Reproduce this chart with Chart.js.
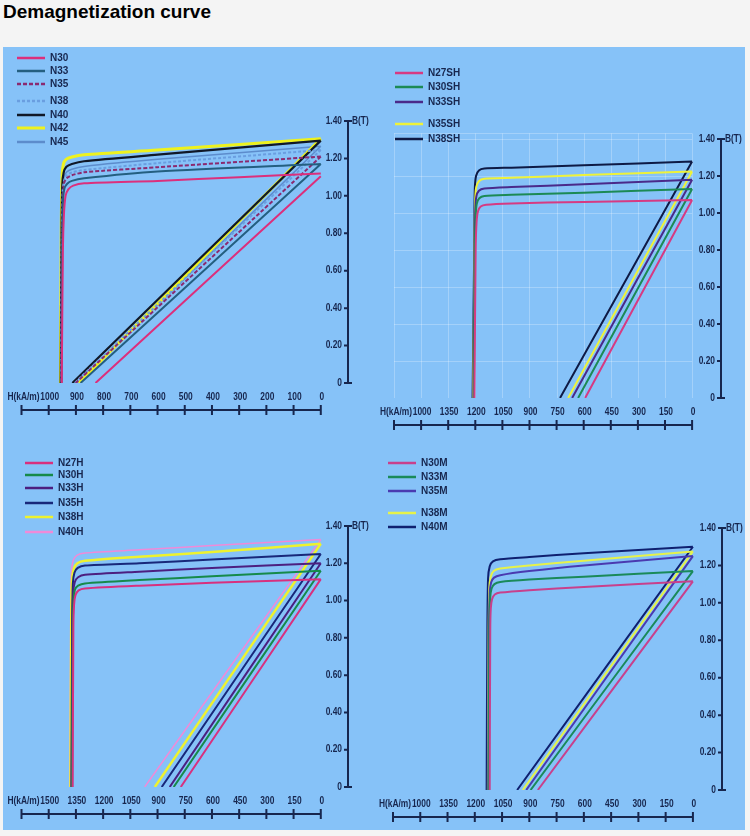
<!DOCTYPE html>
<html>
<head>
<meta charset="utf-8">
<title>Demagnetization curve</title>
<script src="https://cdn.jsdelivr.net/npm/chart.js@4.4.1/dist/chart.umd.min.js"></script>
<style>
    html, body { margin: 0; padding: 0; background: #f4f4f4; }
    body { width: 750px; height: 836px; position: relative; overflow: hidden; font-family: Arial, "Liberation Sans", sans-serif; }
    h1 { position: absolute; left: 3px; top: 1px; margin: 0; font-size: 19px; line-height: 22px; font-weight: bold; color: #000; }
    .board { position: absolute; left: 3px; top: 47px; width: 742px; height: 783px; background: #86c2f8; }
    canvas { position: absolute; }
</style>
</head>
<body>
<h1>Demagnetization curve</h1>
<div class="board"></div>
<canvas id="chartN" style="left:3px;top:47px" width="372" height="390"></canvas>
<canvas id="chartSH" style="left:375px;top:47px" width="370" height="390"></canvas>
<canvas id="chartH" style="left:3px;top:437px" width="372" height="393"></canvas>
<canvas id="chartM" style="left:375px;top:437px" width="370" height="393"></canvas>
<script>
// B axis (tesla), shared by all four panels
const bTicks = [0, 0.2, 0.4, 0.6, 0.8, 1.0, 1.2, 1.4];
const bTickLabels = ['0', '0.20', '0.40', '0.60', '0.80', '1.00', '1.20', '1.40'];

// N grades, H axis 0..1100 kA/m
const nGrades = ['N30', 'N33', 'N35', 'N38', 'N40', 'N42', 'N45'];
const nHTicks = [1100, 1000, 900, 800, 700, 600, 500, 400, 300, 200, 100, 0];
const nHLabels = ['H(kA/m)', '1000', '900', '800', '700', '600', '500', '400', '300', '200', '100', '0'];
const nIntrinsic = [
    [[0, 1.12], [300, 1.10], [600, 1.08], [870, 1.067], [910, 1.055], [928, 1.035], [938, 1.0], [944, 0.9], [948, 0.7], [952, 0]],
    [[0, 1.17], [600, 1.13], [870, 1.094], [915, 1.08], [932, 1.065], [942, 1.04], [947, 0.98], [950, 0.8], [953, 0]],
    [[0, 1.21], [600, 1.153], [870, 1.126], [915, 1.11], [933, 1.095], [943, 1.07], [948, 1.0], [951, 0.8], [954, 0]],
    [[0, 1.245], [600, 1.175], [870, 1.138], [915, 1.125], [934, 1.11], [944, 1.08], [949, 1.02], [952, 0.8], [955, 0]],
    [[0, 1.295], [600, 1.22], [870, 1.185], [915, 1.17], [935, 1.155], [945, 1.125], [950, 1.06], [953, 0.8], [956, 0]],
    [[0, 1.305], [600, 1.245], [870, 1.22], [915, 1.208], [936, 1.195], [946, 1.17], [951, 1.1], [954, 0.8], [957, 0]],
    [[0, 1.265], [600, 1.195], [870, 1.157], [915, 1.142], [934, 1.127], [944, 1.1], [949, 1.04], [952, 0.8], [955, 0]]
];
const nNormal = [
    [[0, 1.105], [828, 0]],
    [[0, 1.17], [883, 0]],
    [[0, 1.21], [901, 0]],
    [[0, 1.245], [905, 0]],
    [[0, 1.295], [913, 0]],
    [[0, 1.305], [889, 0]],
    [[0, 1.265], [895, 0]]
];

// SH grades, H axis 0..1650 kA/m
const shGrades = ['N27SH', 'N30SH', 'N33SH', 'N35SH', 'N38SH'];
const shHTicks = [1650, 1500, 1350, 1200, 1050, 900, 750, 600, 450, 300, 150, 0];
const shHLabels = ['H(kA/m)', '1000', '1350', '1200', '1050', '900', '750', '600', '450', '300', '150', '0'];
const shIntrinsic = [
    [[0, 1.07], [600, 1.06], [1000, 1.052], [1140, 1.045], [1170, 1.035], [1185, 1.01], [1193, 0.95], [1198, 0.8], [1205, 0]],
    [[0, 1.13], [600, 1.11], [1000, 1.098], [1150, 1.092], [1178, 1.08], [1192, 1.05], [1198, 0.98], [1202, 0.8], [1208, 0]],
    [[0, 1.18], [600, 1.155], [1000, 1.14], [1150, 1.132], [1180, 1.12], [1194, 1.09], [1200, 1.02], [1203, 0.8], [1210, 0]],
    [[0, 1.224], [600, 1.205], [1000, 1.19], [1150, 1.185], [1180, 1.172], [1195, 1.14], [1201, 1.06], [1204, 0.8], [1212, 0]],
    [[0, 1.278], [600, 1.258], [1000, 1.245], [1150, 1.24], [1180, 1.23], [1196, 1.2], [1203, 1.12], [1206, 0.8], [1215, 0]]
];
const shNormal = [
    [[0, 1.07], [592, 0]],
    [[0, 1.13], [631, 0]],
    [[0, 1.18], [664, 0]],
    [[0, 1.224], [686, 0]],
    [[0, 1.278], [731, 0]]
];

// H grades
const hGrades = ['N27H', 'N30H', 'N33H', 'N35H', 'N38H', 'N40H'];
const hHTicks = [1650, 1500, 1350, 1200, 1050, 900, 750, 600, 450, 300, 150, 0];
const hHLabels = ['H(kA/m)', '1500', '1350', '1200', '1050', '900', '750', '600', '450', '300', '150', '0'];
const hIntrinsic = [
    [[0, 1.115], [600, 1.095], [1000, 1.08], [1300, 1.065], [1335, 1.055], [1352, 1.03], [1360, 0.98], [1364, 0.85], [1368, 0]],
    [[0, 1.16], [600, 1.13], [1000, 1.11], [1300, 1.092], [1338, 1.08], [1355, 1.06], [1363, 1.0], [1367, 0.85], [1371, 0]],
    [[0, 1.20], [600, 1.175], [1000, 1.155], [1300, 1.138], [1338, 1.125], [1356, 1.1], [1365, 1.04], [1369, 0.85], [1373, 0]],
    [[0, 1.25], [600, 1.22], [1000, 1.2], [1300, 1.188], [1340, 1.175], [1358, 1.15], [1367, 1.09], [1371, 0.85], [1375, 0]],
    [[0, 1.305], [600, 1.26], [1000, 1.235], [1300, 1.213], [1342, 1.2], [1362, 1.17], [1372, 1.1], [1376, 0.85], [1380, 0]],
    [[0, 1.327], [600, 1.295], [1000, 1.272], [1300, 1.255], [1345, 1.243], [1365, 1.215], [1375, 1.15], [1379, 0.85], [1383, 0]]
];
const hNormal = [
    [[0, 1.115], [772, 0]],
    [[0, 1.16], [811, 0]],
    [[0, 1.20], [833, 0]],
    [[0, 1.25], [877, 0]],
    [[0, 1.305], [915, 0]],
    [[0, 1.327], [971, 0]]
];

// M grades
const mGrades = ['N30M', 'N33M', 'N35M', 'N38M', 'N40M'];
const mHTicks = [1650, 1500, 1350, 1200, 1050, 900, 750, 600, 450, 300, 150, 0];
const mHLabels = ['H(kA/m)', '1000', '1350', '1200', '1050', '900', '750', '600', '450', '300', '150', '0'];
const mIntrinsic = [
    [[0, 1.115], [600, 1.085], [900, 1.068], [1060, 1.055], [1090, 1.045], [1105, 1.02], [1112, 0.97], [1115, 0.85], [1118, 0]],
    [[0, 1.17], [600, 1.14], [900, 1.125], [1060, 1.112], [1092, 1.1], [1108, 1.075], [1116, 1.02], [1120, 0.85], [1124, 0]],
    [[0, 1.25], [600, 1.2], [900, 1.17], [1060, 1.148], [1094, 1.135], [1110, 1.11], [1118, 1.05], [1122, 0.85], [1126, 0]],
    [[0, 1.275], [600, 1.225], [900, 1.2], [1060, 1.183], [1096, 1.17], [1112, 1.14], [1120, 1.08], [1124, 0.85], [1128, 0]],
    [[0, 1.30], [600, 1.265], [900, 1.245], [1060, 1.233], [1100, 1.222], [1118, 1.195], [1127, 1.13], [1131, 0.85], [1135, 0]]
];
const mNormal = [
    [[0, 1.115], [853, 0]],
    [[0, 1.17], [893, 0]],
    [[0, 1.25], [917, 0]],
    [[0, 1.275], [936, 0]],
    [[0, 1.30], [967, 0]]
];

// styles
const inkColor = '#17264e';
const tickFont = 'bold 10px Arial, "Liberation Sans", sans-serif';
const legendFont = 'bold 10px Arial, "Liberation Sans", sans-serif';
const nColors = ['#dc2f7c', '#245f80', '#8a2a70', '#6a9ee0', '#101828', '#eef21e', '#5c8ccc'];
const nWidths = [2, 2, 2, 2, 2.2, 3, 1.5];
const nDashes = [[], [], [4, 2], [3, 2], [], [], []];
const shColors = ['#d63a82', '#1c8a55', '#4a2a8a', '#eef23a', '#0e1a45'];
const hColors = ['#d8307e', '#168a4a', '#4c1f80', '#18287a', '#eef22e', '#f08ad8'];
const hWidths = [2, 2, 2, 2, 2.5, 1.5];
const mColors = ['#c8408c', '#1a8a5a', '#4a3ab0', '#e6f24a', '#0f2070'];

// the scanned labels are set in a narrow face, so squeeze them a little
function narrowText(ctx, text, x, y) {
    ctx.save();
    ctx.translate(x, y);
    ctx.scale(0.84, 1);
    ctx.fillText(text, 0, 0);
    ctx.restore();
}

const bhAxes = {
    id: 'bhAxes',
    beforeDatasetsDraw: function(chart, args, opts) {
        if (!opts.grid) return;
        const ctx = chart.ctx;
        const xs = chart.scales.x;
        const ys = chart.scales.y;
        const top = ys.getPixelForValue(1.43);
        const bottom = ys.getPixelForValue(0);
        ctx.save();
        ctx.strokeStyle = 'rgba(255, 255, 255, 0.25)';
        ctx.lineWidth = 1;
        ctx.beginPath();
        opts.hTicks.forEach(function(v) {
            const x = Math.round(xs.getPixelForValue(v)) + 0.5;
            ctx.moveTo(x, top);
            ctx.lineTo(x, bottom);
        });
        const left = xs.getPixelForValue(opts.hTicks[0]);
        const right = xs.getPixelForValue(0);
        bTicks.concat([1.43]).forEach(function(v) {
            if (v === 0) return;
            const y = Math.round(ys.getPixelForValue(v)) + 0.5;
            ctx.moveTo(left, y);
            ctx.lineTo(right, y);
        });
        ctx.stroke();
        ctx.restore();
    },
    afterDraw: function(chart, args, opts) {
        const ctx = chart.ctx;
        const xs = chart.scales.x;
        const ys = chart.scales.y;
        const axisX = xs.getPixelForValue(xs.min);
        const yTop = ys.getPixelForValue(1.4);
        const yZero = ys.getPixelForValue(0);
        ctx.save();
        ctx.strokeStyle = inkColor;
        ctx.fillStyle = inkColor;
        ctx.lineWidth = 2;

        // B axis
        ctx.beginPath();
        ctx.moveTo(axisX, yTop);
        ctx.lineTo(axisX, yZero);
        bTicks.forEach(function(v, i) {
            const y = ys.getPixelForValue(v);
            const end = (i === 0 || i === bTicks.length - 1) ? 4 : 0;
            ctx.moveTo(axisX - 4, y);
            ctx.lineTo(axisX + end, y);
        });
        ctx.stroke();
        ctx.font = tickFont;
        ctx.textBaseline = 'middle';
        ctx.textAlign = 'right';
        bTicks.forEach(function(v, i) {
            narrowText(ctx, bTickLabels[i], axisX - 6, ys.getPixelForValue(v));
        });
        ctx.textAlign = 'left';
        narrowText(ctx, 'B(T)', axisX + 4, yTop);

        // H axis
        const lineY = yZero + 27;
        const labelY = yZero + 14;
        ctx.beginPath();
        ctx.moveTo(xs.getPixelForValue(opts.hTicks[0]), lineY);
        ctx.lineTo(xs.getPixelForValue(0), lineY);
        opts.hTicks.forEach(function(v) {
            const x = xs.getPixelForValue(v);
            ctx.moveTo(x, lineY - 5);
            ctx.lineTo(x, lineY + 5);
        });
        ctx.stroke();
        ctx.textAlign = 'center';
        opts.hTicks.forEach(function(v, i) {
            narrowText(ctx, opts.hLabels[i], xs.getPixelForValue(v) + (i === 0 ? 2 : 1), labelY);
        });

        // legend
        ctx.font = legendFont;
        ctx.textAlign = 'left';
        chart.data.datasets.forEach(function(ds, i) {
            const y = opts.legendRows[i];
            ctx.save();
            ctx.strokeStyle = ds.borderColor;
            ctx.lineWidth = Math.max(2.5, ds.borderWidth);
            ctx.setLineDash(ds.borderDash || []);
            ctx.beginPath();
            ctx.moveTo(opts.legendX, y);
            ctx.lineTo(opts.legendX + 28, y);
            ctx.stroke();
            ctx.restore();
            ctx.fillText(ds.label, opts.legendX + 33, y + 0.5);
        });
        ctx.restore();
    }
};

function toPoints(intrinsic, normal) {
    const pts = intrinsic.map(function(p) { return { x: p[0], y: p[1] }; });
    pts.push({ x: 0, y: null });
    normal.forEach(function(p) { pts.push({ x: p[0], y: p[1] }); });
    return pts;
}

function makePanel(id, panel) {
    const datasets = panel.grades.map(function(name, i) {
        return {
            label: name,
            data: toPoints(panel.intrinsic[i], panel.normal[i]),
            borderColor: panel.colors[i],
            borderWidth: panel.widths ? panel.widths[i] : 2,
            borderDash: panel.dashes ? panel.dashes[i] : [],
            pointRadius: 0,
            tension: 0.25,
            spanGaps: false,
            fill: false
        };
    });
    return new Chart(document.getElementById(id), {
        type: 'line',
        data: { datasets: datasets },
        plugins: [bhAxes],
        options: {
            responsive: false,
            animation: false,
            layout: { padding: panel.padding },
            scales: {
                x: { type: 'linear', min: panel.xMin, max: panel.hTicks[0], reverse: true, display: false },
                y: { type: 'linear', min: 0, max: 1.4, display: false }
            },
            plugins: {
                legend: { display: false },
                tooltip: { enabled: false },
                bhAxes: {
                    hTicks: panel.hTicks,
                    hLabels: panel.hLabels,
                    legendRows: panel.legendRows,
                    legendX: panel.legendX,
                    grid: panel.grid || false
                }
            }
        }
    });
}

document.addEventListener('DOMContentLoaded', function() {
    makePanel('chartN', {
        grades: nGrades, intrinsic: nIntrinsic, normal: nNormal,
        colors: nColors, widths: nWidths, dashes: nDashes,
        xMin: -100, hTicks: nHTicks, hLabels: nHLabels,
        padding: { left: 18.5, right: 27, top: 74, bottom: 54 },
        legendX: 14, legendRows: [11, 24, 37, 54, 68, 81, 95]
    });
    makePanel('chartSH', {
        grades: shGrades, intrinsic: shIntrinsic, normal: shNormal,
        colors: shColors,
        xMin: -160, hTicks: shHTicks, hLabels: shHLabels,
        padding: { left: 19, right: 24, top: 92, bottom: 39 },
        legendX: 20, legendRows: [26, 40, 55, 77, 92],
        grid: true
    });
    makePanel('chartH', {
        grades: hGrades, intrinsic: hIntrinsic, normal: hNormal,
        colors: hColors, widths: hWidths,
        xMin: -150, hTicks: hHTicks, hLabels: hHLabels,
        padding: { left: 18.5, right: 27, top: 89, bottom: 43 },
        legendX: 22, legendRows: [26, 38, 51, 66, 80, 95]
    });
    makePanel('chartM', {
        grades: mGrades, intrinsic: mIntrinsic, normal: mNormal,
        colors: mColors,
        xMin: -160, hTicks: mHTicks, hLabels: mHLabels,
        padding: { left: 18, right: 23, top: 91, bottom: 40 },
        legendX: 13, legendRows: [26, 40, 54, 76, 90]
    });
});
</script>
</body>
</html>
